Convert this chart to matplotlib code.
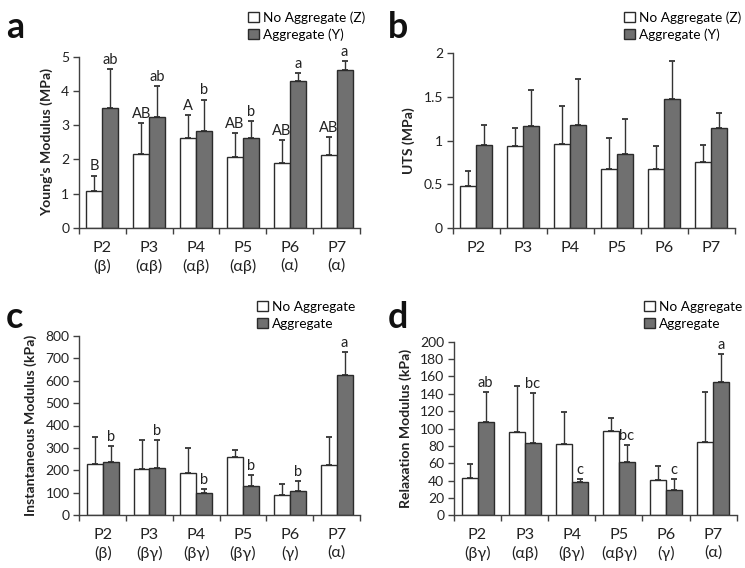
import matplotlib
matplotlib.use("Agg")
import matplotlib.pyplot as plt
import numpy as np

plt.rcParams['font.family'] = ['Lato', 'Open Sans', 'DejaVu Sans']

groups = ['P2', 'P3', 'P4', 'P5', 'P6', 'P7']

# Panel a: Young's modulus (MPa)
a_sub = ['(β)', '(αβ)', '(αβ)', '(αβ)', '(α)', '(α)']
a_white = [1.08, 2.17, 2.62, 2.06, 1.91, 2.14]
a_white_err = [0.45, 0.90, 0.67, 0.71, 0.65, 0.51]
a_gray = [3.49, 3.24, 2.84, 2.62, 4.28, 4.61]
a_gray_err = [1.14, 0.90, 0.91, 0.49, 0.25, 0.26]
a_white_lbl = ['B', 'AB', 'A', 'AB', 'AB', 'AB']
a_gray_lbl = ['ab', 'ab', 'b', 'b', 'a', 'a']

# Panel b: UTS (MPa)
b_white = [0.48, 0.94, 0.96, 0.68, 0.68, 0.75]
b_white_err = [0.17, 0.20, 0.44, 0.35, 0.26, 0.20]
b_gray = [0.95, 1.17, 1.18, 0.85, 1.48, 1.14]
b_gray_err = [0.23, 0.41, 0.52, 0.40, 0.43, 0.17]

# Panel c: Instantaneous modulus (kPa)
c_sub = ['(β)', '(βγ)', '(βγ)', '(βγ)', '(γ)', '(α)']
c_white = [230, 205, 187, 258, 91, 226]
c_white_err = [119, 132, 114, 34, 47, 124]
c_gray = [237, 211, 98, 131, 107, 626]
c_gray_err = [72, 126, 19, 47, 47, 101]
c_gray_lbl = ['b', 'b', 'b', 'b', 'b', 'a']

# Panel d: Relaxation modulus (kPa)
d_sub = ['(βγ)', '(αβ)', '(βγ)', '(αβγ)', '(γ)', '(α)']
d_white = [42.6, 96, 82, 97.5, 41, 84.8]
d_white_err = [17, 53, 36.6, 15, 15.4, 56.8]
d_gray = [107, 83.7, 38, 61, 29.6, 154]
d_gray_err = [34.6, 57.3, 3.8, 19.6, 12.6, 31.4]
d_gray_lbl = ['ab', 'bc', 'c', 'bc', 'c', 'a']

W, H = 745, 568
fig = plt.figure(figsize=(W / 100, H / 100), dpi=100)
renderer = fig.canvas.get_renderer()


def fit(s, target, weight='normal', base=10.0):
    t = fig.text(0, 0, s, fontsize=base, fontweight=weight)
    w = t.get_window_extent(renderer).width
    t.remove()
    return base * target / w


LEG_FS = fit('No Aggregate (Z)', 102)
YLAB_FS = fit("Young's Modulus (MPa)", 148, 'bold')
TICK_FS = fit('800', 24)
XT_FS = fit('P2', 19)
ANN_FS = fit('ab', 15.5)
LET_FS = fit('a', 18, 'bold')

GRAY = '#707070'
EDGE = '#2b2b2b'
AXC = '#404040'
bw = 0.34


def fig_rect(l, t, r, b):
    return [l / W, 1 - b / H, (r - l) / W, (b - t) / H]


def panel(rect, white, werr, gray, gerr, ylim, yticks, ytl, ylabel, xlabels,
          leg_labels, leg_pos, letter, letter_pos, wlbl=None, glbl=None):
    ax = fig.add_axes(rect)
    x = np.arange(len(groups))
    ax.bar(x - bw / 2, white, bw, color='white', edgecolor=EDGE, linewidth=1.0,
           label=leg_labels[0], zorder=2)
    ax.bar(x + bw / 2, gray, bw, color=GRAY, edgecolor=EDGE, linewidth=1.0,
           label=leg_labels[1], zorder=2)
    ax.errorbar(x - bw / 2, white, yerr=[np.zeros(len(white)), werr], fmt='none',
                ecolor='#333333', elinewidth=1.0, capsize=2.5, capthick=1.3, zorder=1)
    ax.errorbar(x + bw / 2, gray, yerr=[np.zeros(len(gray)), gerr], fmt='none',
                ecolor='#333333', elinewidth=1.0, capsize=2.5, capthick=1.3, zorder=1)
    if wlbl is not None:
        for xi, v, e, t in zip(x, white, werr, wlbl):
            ax.annotate(t, (xi - bw / 2, v + e), xytext=(0, 1.5), textcoords='offset points',
                        ha='center', va='bottom', fontsize=ANN_FS, color='#222222')
    if glbl is not None:
        for xi, v, e, t in zip(x, gray, gerr, glbl):
            ax.annotate(t, (xi + bw / 2, v + e), xytext=(0, 1.5), textcoords='offset points',
                        ha='center', va='bottom', fontsize=ANN_FS, color='#222222')
    ax.set_xlim(-0.5, len(groups) - 0.5)
    ax.set_ylim(*ylim)
    ax.set_yticks(yticks)
    ax.set_yticklabels(ytl, fontsize=TICK_FS, color='#222222')
    ax.set_xticks(x)
    ax.set_xticklabels(xlabels, fontsize=XT_FS, color='#222222', linespacing=1.35)
    ax.set_xticks(np.arange(len(groups) + 1) - 0.5, minor=True)
    ax.tick_params(axis='x', which='major', length=0, pad=9)
    ax.tick_params(axis='x', which='minor', length=4, width=1, color=AXC, direction='out')
    ax.tick_params(axis='y', length=4, width=1, color=AXC, direction='out', pad=3)
    for s in ['top', 'right']:
        ax.spines[s].set_visible(False)
    for s in ['left', 'bottom']:
        ax.spines[s].set_color(AXC)
        ax.spines[s].set_linewidth(1.0)
    ax.set_ylabel(ylabel, fontsize=YLAB_FS, fontweight='bold', color='#222222', labelpad=6)
    ax.legend(loc='upper left', bbox_to_anchor=(leg_pos[0] / W, 1 - leg_pos[1] / H),
              bbox_transform=fig.transFigure, frameon=False, fontsize=LEG_FS,
              handlelength=0.8, handleheight=0.8, handletextpad=0.3,
              labelspacing=0.35, borderpad=0, borderaxespad=0)
    fig.text(letter_pos[0] / W, 1 - letter_pos[1] / H, letter, fontsize=LET_FS,
             fontweight='bold', ha='left', va='center', color='#111111')
    return ax


xa = [g + '\n' + s for g, s in zip(groups, a_sub)]
xc = [g + '\n' + s for g, s in zip(groups, c_sub)]
xd = [g + '\n' + s for g, s in zip(groups, d_sub)]

panel(fig_rect(79, 56.7, 360, 228), a_white, a_white_err, a_gray, a_gray_err,
      (0, 5), [0, 1, 2, 3, 4, 5], ['0', '1', '2', '3', '4', '5'],
      "Young's Modulus (MPa)", xa, ['No Aggregate (Z)', 'Aggregate (Y)'],
      (248, 11), 'a', (6, 27), wlbl=a_white_lbl, glbl=a_gray_lbl)

panel(fig_rect(452.7, 53, 735, 228), b_white, b_white_err, b_gray, b_gray_err,
      (0, 2), [0, 0.5, 1, 1.5, 2], ['0', '0.5', '1', '1.5', '2'],
      'UTS (MPa)', groups, ['No Aggregate (Z)', 'Aggregate (Y)'],
      (624, 11), 'b', (388, 27))

panel(fig_rect(79.3, 335.7, 360, 515.3), c_white, c_white_err, c_gray, c_gray_err,
      (0, 800), list(range(0, 801, 100)), [str(v) for v in range(0, 801, 100)],
      'Instantaneous Modulus (kPa)', xc, ['No Aggregate', 'Aggregate'],
      (257, 301), 'c', (6, 318), glbl=c_gray_lbl)

panel(fig_rect(454, 341.7, 736.7, 515.3), d_white, d_white_err, d_gray, d_gray_err,
      (0, 200), list(range(0, 201, 20)), [str(v) for v in range(0, 201, 20)],
      'Relaxation Modulus (kPa)', xd, ['No Aggregate', 'Aggregate'],
      (644, 301), 'd', (388, 318), glbl=d_gray_lbl)

fig.savefig('out.png', dpi=100)
